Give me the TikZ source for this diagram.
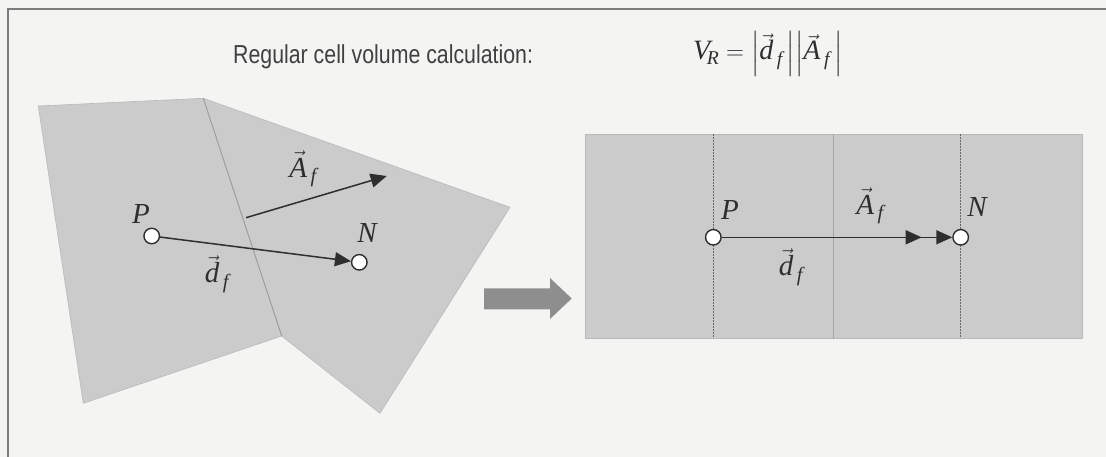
\documentclass[tikz,border=0pt]{standalone}
\usepackage{amsmath}
\usepackage{graphicx}
\usepackage{fontspec}
\setmainfont{Liberation Serif}
\newfontfamily\titlefont{Liberation Sans}
\usetikzlibrary{arrows.meta}
\definecolor{bg}{HTML}{F4F4F3}
\definecolor{cellgray}{HTML}{CBCBCB}
\definecolor{edgegray}{HTML}{B9B9B9}
\definecolor{facegray}{HTML}{9A9A9A}
\definecolor{bigarrowgray}{HTML}{8E8E8E}
\definecolor{framecol}{HTML}{7C7C7C}
\definecolor{inkgray}{HTML}{2E2E2E}
\newcommand\iv[1]{\text{\itshape #1}}
\newcommand\vl[2]{\vec{\iv{#1}}_{\,\iv{#2}}}
\newcommand\barstrut{\rule[-0.55em]{0pt}{1.6em}}
\begin{document}
\begin{tikzpicture}[x=1pt,y=-1pt,
  cellfill/.style={fill=cellgray, draw=edgegray, line width=0.6pt},
  faceline/.style={draw=facegray, line width=0.8pt},
  dashline/.style={draw=black!60, line width=0.9pt, dash pattern=on 1.8pt off 1.2pt},
  cent/.style={circle, draw=inkgray, fill=white, line width=1.4pt, minimum size=15.5pt, inner sep=0pt},
  vecarrow/.style={draw=inkgray, line width=1.5pt, -{Triangle[length=16pt,width=14pt]}},
  lab/.style={inner sep=0pt, font=\fontsize{29}{33}\selectfont, text=inkgray},
  formtext/.style={inner sep=0pt, font=\fontsize{28}{32}\selectfont, text=inkgray},
  titletext/.style={inner sep=0pt, font=\titlefont\fontsize{26}{30}\selectfont, text=black!75}
]
\useasboundingbox (0,0) rectangle (1106,457);
\fill[bg] (0,0) rectangle (1106,457);
\draw[framecol, line width=1.6pt] (8,457) -- (8,9) -- (1106,9);

% title
\node[titletext, anchor=base west] (title) at (233,64) {\scalebox{0.82}[1]{Regular cell volume calculation:}};
\node[formtext, anchor=base west] (formula) at (693,60)
  {$\iv{V}_{\!\iv{R}} = \left|\barstrut\vl{d}{f}\,\right|\!\left|\barstrut\vl{A}{f}\,\right|$};

% left: irregular cells
\filldraw[cellfill] (38.3,106) -- (203.3,98.3) -- (281.7,336) -- (83.3,403.3) -- cycle;
\filldraw[cellfill] (203.3,98.3) -- (510,207.3) -- (380,413.3) -- (281.7,336) -- cycle;
\draw[faceline] (203.3,98.3) -- (281.7,336);

\node[cent] (P1) at (151.7,236) {};
\node[cent] (N1) at (359.3,262.3) {};
\coordinate (F1) at (246,217.7);
\coordinate (A1) at (386.7,176);
\draw[vecarrow] (P1) -- (N1);
\draw[vecarrow] (F1) -- (A1);
\node[lab] (P1l) at (141,214) {\itshape P};
\node[lab] (N1l) at (367,233) {\itshape N};
\node[lab] (A1l) at (303,169) {$\vl{A}{f}$};
\node[lab] (d1l) at (217,274) {$\vl{d}{f}$};

% big arrow
\fill[bigarrowgray] (484,288.3) -- (550,288.3) -- (550,278) -- (571.7,298.5) -- (550,319) -- (550,309.3) -- (484,309.3) -- cycle;

% right: regular cells
\filldraw[cellfill] (585,134.5) rectangle (1082,338.5);
\draw[dashline] (713.3,134.5) -- (713.3,338.5);
\draw[faceline, draw=edgegray!90!black] (833.3,134.5) -- (833.3,338.5);
\draw[dashline] (960.7,134.5) -- (960.7,338.5);

\node[cent] (P2) at (713.3,237.3) {};
\node[cent] (N2) at (960.7,237.3) {};
\coordinate (A2) at (921.7,237.3);
\draw[vecarrow] (P2) -- (A2);
\draw[vecarrow] (P2) -- (N2);
\node[lab] (P2l) at (730,210) {\itshape P};
\node[lab] (N2l) at (977,207) {\itshape N};
\node[lab] (A2l) at (870,206) {$\vl{A}{f}$};
\node[lab] (d2l) at (791,267) {$\vl{d}{f}$};
\end{tikzpicture}
\end{document}
